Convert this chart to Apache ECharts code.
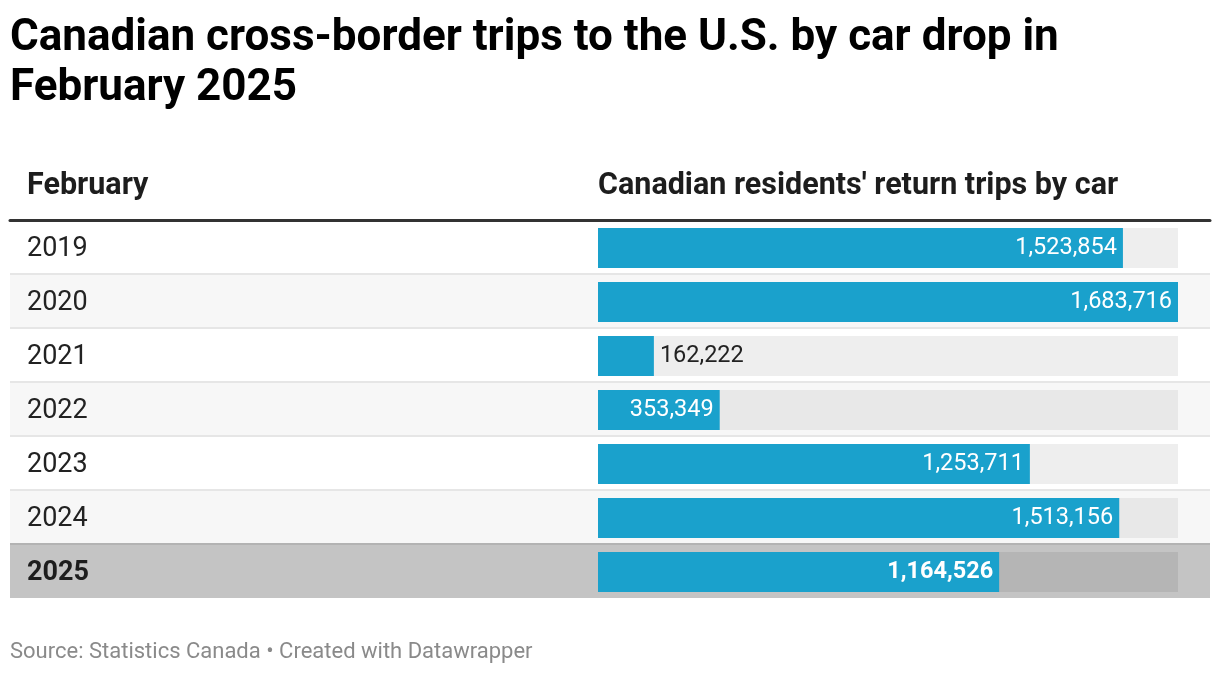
<!DOCTYPE html>
<html>
<head>
<meta charset="utf-8">
<script src="https://cdn.jsdelivr.net/npm/echarts@6/dist/echarts.min.js"></script>
<style>
  html, body { margin: 0; padding: 0; background: #fff; }
  #chart { width: 1220px; height: 674px; }
</style>
</head>
<body>
<div id="chart"></div>
<script>
// data
var years = ['2019', '2020', '2021', '2022', '2023', '2024', '2025'];
var trips = [1523854, 1683716, 162222, 353349, 1253711, 1513156, 1164526];
var highlightYear = '2025';

var titleText = 'Canadian cross-border trips to the U.S. by car drop in\nFebruary 2025';
var colHeaderLeft = 'February';
var colHeaderRight = "Canadian residents' return trips by car";
var sourceText = 'Source: Statistics Canada \u2022 Created with Datawrapper';

var FONT = 'Roboto';
var BAR_COLOR = '#1aa1cc';
var tableTop = 220;
var rowHeight = 54;
var barLeft = 598;
var barWidthPx = 580;

var trackMax = Math.max.apply(null, trips);

function fmt(v) {
    return v.toLocaleString('en-US');
}

var rowColors = years.map(function (y, i) {
    if (y === highlightYear) return '#c4c4c4';
    return i % 2 === 0 ? '#ffffff' : '#f7f7f7';
});
var trackColors = years.map(function (y, i) {
    if (y === highlightYear) return '#b5b5b5';
    return i % 2 === 0 ? '#eeeeee' : '#e8e8e8';
});
// split lines between rows; the one above the highlighted row is darker
var lineColors = ['transparent'];
years.forEach(function (y, i) {
    if (i === years.length - 1) return;
    lineColors.push(years[i + 1] === highlightYear ? '#b3b3b3' : '#e6e6e6');
});
lineColors.push('transparent');

var trackData = years.map(function (y, i) {
    return { value: trackMax, itemStyle: { color: trackColors[i] } };
});

var valueData = trips.map(function (v, i) {
    var barPx = v / trackMax * barWidthPx;
    var textPx = fmt(v).length * 12 + 12;
    var bold = years[i] === highlightYear;
    var inside = barPx > textPx;
    return {
        value: v,
        label: {
            position: inside ? 'insideRight' : 'right',
            color: inside ? '#ffffff' : '#222222',
            fontWeight: bold ? 'bold' : 'normal',
            distance: 6
        }
    };
});

var chart = echarts.init(document.getElementById('chart'));

var option = {
    backgroundColor: '#ffffff',
    animation: false,
    title: [
        {
            text: titleText,
            left: 5,
            top: 9,
            textStyle: { fontFamily: FONT, fontSize: 44, fontWeight: 'bold', color: '#000', lineHeight: 50 }
        },
        {
            text: colHeaderLeft,
            left: 22,
            top: 163,
            textStyle: { fontFamily: FONT, fontSize: 30.5, fontWeight: 'bold', color: '#1d1d1d', lineHeight: 36 }
        },
        {
            text: colHeaderRight,
            left: barLeft - 5,
            top: 163,
            textStyle: { fontFamily: FONT, fontSize: 30.5, fontWeight: 'bold', color: '#1d1d1d', lineHeight: 36 }
        },
        {
            text: sourceText,
            left: 5,
            top: 634,
            textStyle: { fontFamily: FONT, fontSize: 22, fontWeight: 'normal', color: '#8a8a8a', lineHeight: 26 }
        }
    ],
    grid: [
        // full-width table rows
        { left: 10, right: 10, top: tableTop, height: rowHeight * years.length },
        // bar column
        { left: barLeft, width: barWidthPx, top: tableTop + 1, height: rowHeight * years.length }
    ],
    xAxis: [
        {
            gridIndex: 0,
            type: 'value',
            position: 'top',
            min: 0,
            max: 1,
            axisLine: { show: true, onZero: false, lineStyle: { color: '#333333', width: 3 } },
            axisTick: { show: false },
            axisLabel: { show: false },
            splitLine: { show: false }
        },
        {
            gridIndex: 1,
            type: 'value',
            min: 0,
            max: trackMax,
            show: false
        }
    ],
    yAxis: [
        {
            gridIndex: 0,
            type: 'category',
            inverse: true,
            data: years,
            axisLine: { show: false },
            axisTick: { show: false },
            axisLabel: {
                inside: true,
                margin: 17,
                fontFamily: FONT,
                fontSize: 27,
                color: '#222222',
                padding: [5, 0, 0, 0],
                formatter: function (v) {
                    return v === highlightYear ? '{b|' + v + '}' : v;
                },
                rich: { b: { fontFamily: FONT, fontSize: 27, fontWeight: 'bold', color: '#1d1d1d' } }
            },
            splitArea: { show: true, areaStyle: { color: rowColors } },
            splitLine: { show: true, lineStyle: { color: lineColors, width: 2 } },
            z: 0
        },
        {
            gridIndex: 1,
            type: 'category',
            inverse: true,
            data: years,
            show: false
        }
    ],
    series: [
        {
            name: 'track',
            type: 'bar',
            xAxisIndex: 1,
            yAxisIndex: 1,
            barWidth: 40,
            barGap: '-100%',
            silent: true,
            data: trackData,
            z: 1
        },
        {
            name: "Canadian residents' return trips by car",
            type: 'bar',
            xAxisIndex: 1,
            yAxisIndex: 1,
            barWidth: 40,
            itemStyle: { color: BAR_COLOR },
            label: {
                show: true,
                fontFamily: FONT,
                fontSize: 23.5,
                padding: [4, 0, 0, 0],
                formatter: function (p) { return fmt(p.value); }
            },
            data: valueData,
            z: 2
        }
    ]
};

chart.setOption(option);
</script>
</body>
</html>
